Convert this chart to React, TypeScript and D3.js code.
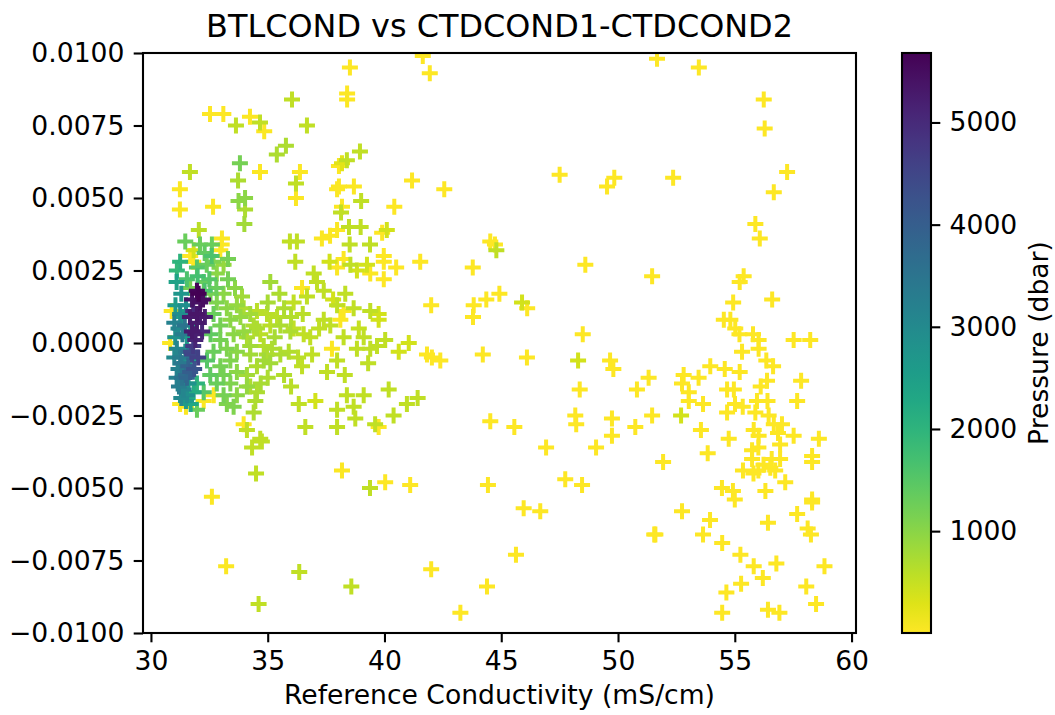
import { useEffect, useRef } from "react";
import * as d3 from "d3";

// [reference conductivity (mS/cm), BTLCOND - (CTDCOND1-CTDCOND2) diff, pressure (dbar)]
type Pt = [number, number, number];

const xTicks = [30, 35, 40, 45, 50, 55, 60];
const yTicks = [-0.01, -0.0075, -0.005, -0.0025, 0, 0.0025, 0.005, 0.0075, 0.01];
const pressureTicks = [1000, 2000, 3000, 4000, 5000];

const upperLeft: Pt[] = [
  [38.52, 0.0095, 20], [38.40, 0.0086, 25], [38.40, 0.0084, 30], [32.53, 0.0079, 15], [33.10, 0.0079, 20],
  [34.24, 0.0078, 30], [33.64, 0.0075, 550], [34.67, 0.0076, 550], [34.85, 0.0073, 40], [36.04, 0.0084, 550],
  [36.68, 0.0075, 550], [35.78, 0.0068, 700], [35.39, 0.0065, 700], [38.95, 0.0066, 550], [38.18, 0.0062, 250],
  [38.39, 0.0063, 550], [38.05, 0.0061, 30], [33.81, 0.0062, 1200], [31.67, 0.0059, 550], [34.67, 0.0059, 30],
  [36.38, 0.0059, 30], [33.73, 0.0056, 700], [36.21, 0.0055, 550], [31.24, 0.0053, 30], [38.05, 0.0054, 30],
  [38.69, 0.0054, 30], [37.97, 0.0053, 30], [34.03, 0.0050, 1000], [33.75, 0.0049, 1000], [36.21, 0.0050, 30],
  [39.00, 0.0049, 550], [31.24, 0.0046, 30], [32.66, 0.0047, 30], [34.03, 0.0046, 700], [38.18, 0.0047, 30],
  [38.14, 0.0045, 550], [34.00, 0.0041, 800], [32.05, 0.0039, 600], [38.48, 0.0040, 550], [38.98, 0.0040, 550],
  [37.97, 0.0039, 30], [37.67, 0.0037, 30], [31.47, 0.0035, 1300], [32.10, 0.0034, 1300], [32.61, 0.0034, 1300],
  [33.04, 0.0036, 30], [35.95, 0.0035, 550], [36.25, 0.0035, 550], [37.32, 0.0036, 30], [38.51, 0.0034, 550],
  [39.38, 0.0034, 550], [33.03, 0.0034, 30], [31.81, 0.0028, 30],
];

const upperRight: Pt[] = [
  [41.64, 0.0099, 10], [41.94, 0.0093, 10], [41.18, 0.0056, 10], [42.56, 0.0053, 10], [40.42, 0.0047, 10],
  [40.10, 0.0039, 400], [39.90, 0.0038, 20], [47.50, 0.0058, 5], [49.53, 0.0054, 5], [49.84, 0.0057, 5],
  [44.53, 0.0035, 10], [44.73, 0.0034, 10], [51.67, 0.0098, 5], [53.46, 0.0095, 5], [56.24, 0.0084, 5],
  [56.28, 0.0074, 5], [57.24, 0.0059, 5], [56.67, 0.0052, 5], [55.88, 0.0041, 5], [56.07, 0.0036, 5],
  [52.36, 0.0057, 5],
];

const midBand: Pt[] = [
  [39.97, 0.0030, 20], [39.97, 0.0028, 20], [40.50, 0.0026, 20], [39.97, 0.0022, 20], [41.53, 0.0028, 10],
  [43.78, 0.0026, 10], [44.79, 0.0032, 550], [48.60, 0.0027, 5], [42.00, 0.0013, 10], [43.82, 0.0013, 10],
  [43.79, 0.0009, 10], [44.36, 0.0015, 10], [44.92, 0.0017, 10], [45.89, 0.0014, 400], [46.11, 0.0012, 10],
  [39.75, 0.0010, 400], [39.75, 0.0008, 400], [40.03, 0.0001, 550], [39.68, -0.0001, 550], [41.04, 0.0000, 400],
  [40.61, -0.0003, 400], [41.82, -0.0004, 10], [42.03, -0.0005, 10], [42.39, -0.0006, 10], [44.21, -0.0004, 10],
  [46.10, -0.0005, 10], [48.49, 0.0003, 5], [48.29, -0.0006, 400], [49.66, -0.0006, 5], [49.80, -0.0009, 5],
  [40.18, -0.0016, 550], [40.96, -0.0021, 550], [41.42, -0.0019, 550], [40.39, -0.0025, 550], [39.75, -0.0029, 20],
  [44.53, -0.0027, 10], [45.56, -0.0029, 10], [48.36, -0.0016, 5], [48.17, -0.0025, 5], [48.21, -0.0028, 5],
  [49.74, -0.0026, 5], [49.74, -0.0032, 5], [51.46, 0.0023, 5], [55.38, 0.0023, 5], [55.21, 0.0021, 5],
  [54.93, 0.0014, 5], [56.60, 0.0015, 5], [54.53, 0.0008, 5], [54.81, 0.0008, 5], [55.02, 0.0005, 5],
  [55.20, 0.0003, 5], [55.78, 0.0003, 5], [56.02, 0.0001, 5], [55.31, -0.0003, 5], [56.02, -0.0002, 5],
  [57.52, 0.0001, 5], [58.23, 0.0001, 5], [56.35, -0.0006, 5], [56.64, -0.0008, 5], [53.95, -0.0008, 5],
  [54.57, -0.0009, 5], [55.21, -0.0010, 5], [51.31, -0.0012, 5], [52.81, -0.0011, 5], [53.45, -0.0012, 5],
  [52.74, -0.0014, 5], [53.03, -0.0017, 5], [50.81, -0.0016, 5], [54.67, -0.0016, 5], [54.96, -0.0016, 5],
  [56.38, -0.0013, 5], [56.11, -0.0015, 5], [57.84, -0.0013, 5], [53.03, -0.0020, 5], [53.64, -0.0021, 5],
  [55.95, -0.0020, 5], [56.40, -0.0020, 5], [57.67, -0.0020, 5], [55.01, -0.0021, 5], [55.34, -0.0022, 5],
  [54.67, -0.0024, 5], [55.88, -0.0024, 5], [51.46, -0.0025, 5], [52.70, -0.0025, 400], [50.74, -0.0029, 5],
  [56.45, -0.0025, 5], [56.67, -0.0028, 5], [57.02, -0.0028, 5], [55.81, -0.0030, 5], [56.02, -0.0032, 5],
  [56.85, -0.0031, 5], [57.52, -0.0032, 5], [53.55, -0.0030, 5], [54.74, -0.0033, 5], [58.60, -0.0033, 5],
];

const lowerPoints: Pt[] = [
  [51.93, -0.0041, 5], [53.84, -0.0038, 5], [55.74, -0.0037, 5], [56.01, -0.0036, 5], [56.94, -0.0035, 5],
  [55.74, -0.0040, 5], [56.23, -0.0042, 5], [56.58, -0.0040, 5], [56.94, -0.0040, 5], [56.52, -0.0043, 5],
  [55.35, -0.0044, 5], [55.80, -0.0045, 5], [56.01, -0.0044, 5], [56.73, -0.0044, 5], [57.16, -0.0048, 5],
  [58.31, -0.0039, 5], [58.31, -0.0041, 5], [54.45, -0.0050, 5], [54.92, -0.0051, 5], [55.00, -0.0054, 5],
  [56.31, -0.0051, 5], [58.31, -0.0054, 5], [58.31, -0.0055, 5], [52.74, -0.0058, 5], [53.94, -0.0061, 5],
  [51.60, -0.0066, 5], [51.55, -0.0066, 5], [53.64, -0.0066, 5], [56.42, -0.0062, 5], [57.67, -0.0059, 5],
  [58.12, -0.0064, 5], [58.26, -0.0066, 5], [54.46, -0.0069, 5], [55.24, -0.0073, 5], [55.81, -0.0077, 5],
  [56.78, -0.0076, 5], [58.84, -0.0077, 5], [56.20, -0.0081, 5], [55.27, -0.0083, 5], [54.64, -0.0086, 5],
  [58.06, -0.0084, 5], [58.48, -0.0090, 5], [54.46, -0.0093, 5], [56.42, -0.0092, 5], [56.91, -0.0093, 5],
  [40.03, -0.0048, 10], [41.10, -0.0049, 10], [44.43, -0.0049, 10], [46.92, -0.0036, 5], [49.06, -0.0036, 5],
  [47.74, -0.0047, 5], [48.46, -0.0049, 5], [45.96, -0.0057, 5], [46.67, -0.0058, 5], [45.63, -0.0073, 5],
  [42.00, -0.0078, 10], [44.39, -0.0084, 10], [43.25, -0.0093, 10], [34.33, -0.0036, 550], [34.75, -0.0034, 550],
  [34.50, -0.0045, 550], [32.61, -0.0053, 30], [38.18, -0.0044, 30], [39.38, -0.0050, 550], [33.22, -0.0077, 30],
  [36.35, -0.0079, 550], [38.58, -0.0084, 550], [34.61, -0.0090, 550],
];

const nearCluster: Pt[] = [
  [36.18, 0.0028, 550], [35.11, 0.0021, 800], [36.97, 0.0024, 550], [37.65, 0.0028, 400], [37.97, 0.0026, 30],
  [38.54, 0.0027, 550], [38.82, 0.0025, 400], [39.25, 0.0027, 400], [39.39, 0.0024, 30], [38.25, 0.0029, 30],
  [36.47, 0.0019, 30], [37.11, 0.0021, 550], [37.40, 0.0018, 550], [38.32, 0.0017, 550], [36.11, 0.0014, 550],
  [36.68, 0.0016, 550], [37.97, 0.0013, 550], [38.25, 0.0011, 30], [38.68, 0.0012, 550], [39.39, 0.0011, 550],
  [37.40, 0.0008, 550], [37.68, 0.0006, 550], [38.11, 0.0008, 30], [36.11, 0.0005, 550], [36.54, 0.0003, 550],
  [36.82, 0.0002, 550], [38.25, 0.0002, 550], [39.11, 0.0002, 550], [37.75, -0.0002, 30], [37.97, -0.0006, 550],
  [38.82, -0.0002, 550], [39.39, -0.0002, 550], [36.47, -0.0008, 550], [37.54, -0.0010, 550], [35.18, -0.0002, 700],
  [35.54, -0.0004, 700], [34.83, -0.0006, 800], [35.11, -0.0007, 800], [35.97, 0.0004, 700], [35.54, 0.0006, 700],
  [36.33, -0.0021, 550], [37.04, -0.0020, 400], [38.39, -0.0018, 550], [39.11, -0.0018, 550], [37.97, -0.0023, 550],
  [38.68, -0.0022, 550], [38.75, -0.0026, 550], [37.97, -0.0029, 550], [36.61, -0.0029, 550], [39.60, -0.0028, 550],
  [33.97, -0.0028, 30], [34.11, -0.0030, 550], [34.68, -0.0033, 550], [34.54, -0.0017, 700], [34.25, -0.0015, 700],
  [34.47, -0.0020, 700], [33.25, -0.0021, 1100], [33.54, -0.0022, 1100], [34.40, -0.0024, 700], [32.69, -0.0018, 30],
  [31.97, -0.0023, 1300], [31.25, -0.0021, 30], [32.26, -0.0020, 30], [31.50, -0.0022, 30],
  [35.70, 0.0012, 700], [36.00, 0.0009, 650], [35.30, 0.0002, 750], [35.90, -0.0003, 650], [36.30, -0.0005, 600],
  [36.90, -0.0004, 550], [37.20, 0.0005, 550], [36.50, 0.0010, 600], [35.00, 0.0014, 750], [35.50, 0.0017, 700],
  [37.80, 0.0015, 400], [38.90, 0.0005, 500], [39.30, -0.0007, 550], [38.30, -0.0011, 550], [35.70, -0.0011, 650],
  [35.00, -0.0012, 700], [34.70, -0.0014, 750], [36.00, -0.0015, 600],
];

const deepCluster: Pt[] = [
  [31.25, 0.0028, 2000], [31.11, 0.0025, 1900], [31.54, 0.0022, 1600], [31.97, 0.0026, 1500], [32.39, 0.0027, 1300],
  [32.68, 0.0028, 1100], [33.11, 0.0027, 900], [32.82, 0.0024, 1000], [32.26, 0.0021, 1300], [31.68, 0.0019, 1200],
  [31.68, 0.0030, 3], [32.97, 0.0032, 30], [31.83, 0.0032, 400],
  [32.30, 0.0031, 1400], [32.60, 0.0030, 1600], [33.30, 0.0029, 1200], [32.00, 0.0023, 1700], [32.50, 0.0022, 1500],
  [33.30, 0.0022, 1200], [33.60, 0.0019, 1000], [32.80, 0.0019, 1300], [32.30, 0.0018, 1600], [33.90, 0.0016, 800],
  [32.04, 0.0017, 5680], [32.11, 0.0014, 5450], [31.97, 0.0010, 5350], [31.97, 0.0007, 5300], [31.90, 0.0003, 5200],
  [31.90, 0.0001, 5100], [31.76, -0.0004, 4500], [31.68, -0.0010, 4000], [31.54, -0.0012, 3800], [31.81, 0.0011, 5000],
  [32.10, 0.0009, 5300], [31.81, -0.0001, 4700],
  [31.76, 0.0015, 5400], [32.23, 0.0015, 5500], [31.67, 0.0009, 5300], [32.31, 0.0009, 5200], [31.76, 0.0004, 5300],
  [32.19, 0.0004, 5100], [31.97, 0.0018, 5600],
  [31.72, -0.0003, 4400], [32.02, -0.0005, 4600], [31.60, -0.0008, 3900], [31.85, -0.0009, 4200], [31.50, -0.0011, 3700],
  [31.25, 0.0010, 2900], [31.18, 0.0005, 3000], [31.04, 0.0002, 2800], [31.11, -0.0002, 3100], [31.25, -0.0005, 3300],
  [31.18, -0.0009, 3200], [31.33, -0.0012, 3500], [31.40, -0.0016, 3100], [31.54, -0.0018, 2900], [31.40, 0.0009, 2500],
  [31.68, 0.0006, 2300], [31.54, 0.0002, 2600], [31.47, -0.0003, 2700], [31.68, -0.0006, 2400], [31.40, -0.0008, 3000],
  [31.61, -0.0014, 2800], [31.83, -0.0017, 2200], [31.97, -0.0014, 2000],
  [31.10, 0.0021, 2400], [31.30, 0.0017, 2700], [31.05, 0.0013, 2600], [31.50, 0.0013, 2900], [31.00, 0.0007, 3200],
  [31.35, 0.0003, 3300], [31.00, -0.0005, 3000], [31.30, -0.0007, 3400], [31.10, -0.0012, 3200], [31.20, -0.0015, 3300],
  [31.30, -0.0019, 3000], [31.50, -0.0020, 2600], [31.70, -0.0021, 2300], [31.60, -0.0003, 3600], [31.45, 0.0006, 3500],
  [32.55, 0.0017, 1200], [32.82, 0.0014, 1100], [33.11, 0.0017, 1000], [32.68, 0.0010, 1300], [33.25, 0.0012, 1000],
  [33.68, 0.0013, 900], [32.97, 0.0006, 1200], [33.40, 0.0008, 1000], [33.83, 0.0009, 900], [34.25, 0.0010, 800],
  [32.55, 0.0003, 1400], [32.97, 0.0001, 1200], [33.54, 0.0003, 1000], [33.97, 0.0004, 900], [34.54, 0.0005, 700],
  [32.68, -0.0003, 1300], [33.25, -0.0002, 1100], [33.68, -0.0003, 1000], [34.25, -0.0001, 800], [32.40, -0.0006, 1500],
  [32.97, -0.0008, 1200], [33.40, -0.0006, 1100], [32.54, -0.0011, 1400], [33.11, -0.0011, 1200], [33.68, -0.0010, 1000],
  [32.82, -0.0014, 1300], [33.40, -0.0014, 1100], [32.26, -0.0017, 1500], [33.11, -0.0018, 1200], [33.68, -0.0018, 1000],
  [34.11, -0.0015, 900],
  [33.97, 0.0012, 700], [34.54, 0.0011, 600], [34.97, 0.0010, 600], [34.40, 0.0006, 700], [34.11, 0.0002, 700],
  [34.68, 0.0003, 600], [35.11, 0.0006, 600], [35.40, 0.0009, 600], [34.83, -0.0001, 650], [34.25, -0.0004, 800],
  [34.97, -0.0004, 700], [34.54, -0.0008, 700], [34.11, -0.0011, 800],
  [30.89, 0.0011, 30], [30.82, 0.0000, 30],
];

const FONT = "DejaVu Sans, sans-serif";

export default function App() {
  const svgRef = useRef<SVGSVGElement>(null);

  useEffect(() => {
    if (!svgRef.current) return;
    document.body.style.margin = "0";

    const svg = d3.select(svgRef.current);
    svg.selectAll("*").remove();

    const plot = { left: 143, right: 856, top: 53, bottom: 633 };
    const cbar = { left: 902, right: 931 };

    const x = d3.scaleLinear().domain([29.66, 60.19]).range([plot.left, plot.right]);
    const y = d3.scaleLinear().domain([-0.01, 0.01]).range([plot.bottom, plot.top]);

    // draw shallow first so deep casts sit on top
    const all = [...upperLeft, ...upperRight, ...midBand, ...lowerPoints, ...nearCluster, ...deepCluster].sort(
      (a, b) => a[2] - b[2]
    );
    const [pMin, pMax] = d3.extent(all, (d) => d[2]) as [number, number];
    const color = d3.scaleSequential(d3.interpolateViridis).domain([pMax, pMin]);

    // clip markers to the axes box
    svg
      .append("defs")
      .append("clipPath")
      .attr("id", "plot-clip")
      .append("rect")
      .attr("x", plot.left)
      .attr("y", plot.top)
      .attr("width", plot.right - plot.left)
      .attr("height", plot.bottom - plot.top);

    svg
      .append("g")
      .attr("clip-path", "url(#plot-clip)")
      .selectAll("path")
      .data(all)
      .join("path")
      .attr("d", (d) => {
        const cx = x(d[0]);
        const cy = y(d[1]);
        return `M${cx - 8},${cy}h16M${cx},${cy - 8}v16`;
      })
      .attr("fill", "none")
      .attr("stroke", (d) => color(d[2]))
      .attr("stroke-width", 4);

    // spines
    svg
      .append("rect")
      .attr("x", plot.left)
      .attr("y", plot.top)
      .attr("width", plot.right - plot.left)
      .attr("height", plot.bottom - plot.top)
      .attr("fill", "none")
      .attr("stroke", "#000")
      .attr("stroke-width", 2.1);

    const styleAxis = (g: d3.Selection<SVGGElement, unknown, null, undefined>) => {
      g.select(".domain").remove();
      g.selectAll("line").attr("stroke", "#000").attr("stroke-width", 2.1);
      g.selectAll("text").attr("fill", "#000").style("font-size", "26.6px").style("font-family", FONT);
    };

    svg
      .append("g")
      .attr("transform", `translate(0,${plot.bottom})`)
      .call(d3.axisBottom(x).tickValues(xTicks).tickFormat(d3.format("d")).tickSize(9.3).tickPadding(9.3))
      .call(styleAxis);

    svg
      .append("g")
      .attr("transform", `translate(${plot.left},0)`)
      .call(d3.axisLeft(y).tickValues(yTicks).tickFormat(d3.format(".4f")).tickSize(9.3).tickPadding(9.3))
      .call(styleAxis);

    // title and axis label
    svg
      .append("text")
      .attr("x", (plot.left + plot.right) / 2)
      .attr("y", 37)
      .attr("text-anchor", "middle")
      .style("font-family", FONT)
      .style("font-size", "31.9px")
      .text("BTLCOND vs CTDCOND1-CTDCOND2");

    svg
      .append("text")
      .attr("x", (plot.left + plot.right) / 2)
      .attr("y", 704)
      .attr("text-anchor", "middle")
      .style("font-family", FONT)
      .style("font-size", "26.6px")
      .text("Reference Conductivity (mS/cm)");

    // colorbar
    const grad = svg
      .select("defs")
      .append("linearGradient")
      .attr("id", "cbar-grad")
      .attr("x1", 0)
      .attr("x2", 0)
      .attr("y1", 1)
      .attr("y2", 0);
    d3.range(0, 1.0001, 0.05).forEach((t) => {
      grad
        .append("stop")
        .attr("offset", t)
        .attr("stop-color", color(pMin + t * (pMax - pMin)));
    });

    svg
      .append("rect")
      .attr("x", cbar.left)
      .attr("y", plot.top)
      .attr("width", cbar.right - cbar.left)
      .attr("height", plot.bottom - plot.top)
      .attr("fill", "url(#cbar-grad)")
      .attr("stroke", "#000")
      .attr("stroke-width", 2.1);

    const pScale = d3.scaleLinear().domain([pMin, pMax]).range([plot.bottom, plot.top]);
    svg
      .append("g")
      .attr("transform", `translate(${cbar.right},0)`)
      .call(d3.axisRight(pScale).tickValues(pressureTicks).tickFormat(d3.format("d")).tickSize(9.3).tickPadding(9.3))
      .call(styleAxis);

    svg
      .append("text")
      .attr("transform", `translate(1039,${(plot.top + plot.bottom) / 2}) rotate(-90)`)
      .attr("text-anchor", "middle")
      .attr("dy", "0.35em")
      .style("font-family", FONT)
      .style("font-size", "26.6px")
      .text("Pressure (dbar)");
  }, []);

  return <svg ref={svgRef} width={1055} height={715} style={{ display: "block", background: "#fff" }} />;
}
